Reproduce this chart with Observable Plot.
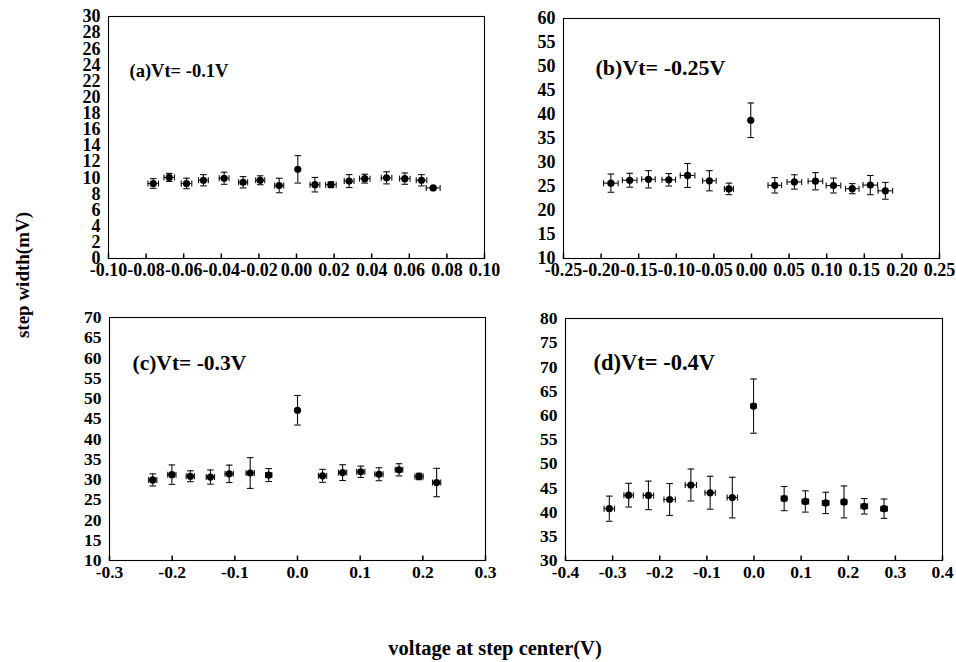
<!DOCTYPE html>
<html>
<head>
<meta charset="utf-8">
<script src="https://cdn.jsdelivr.net/npm/d3@7"></script>
<script src="https://cdn.jsdelivr.net/npm/@observablehq/plot@0.6"></script>
<style>
  html, body { margin: 0; padding: 0; background: #fff; }
  #root { position: relative; width: 956px; height: 662px; overflow: hidden; background: #fff;
          font-family: "Liberation Serif", "Times New Roman", serif; font-weight: bold; color: #000; }
  .panel { position: absolute; width: 480px; }
  .panel svg { max-width: none !important; }
  .title { position: absolute; white-space: nowrap; line-height: 1; }
</style>
</head>
<body>
<div id="root">
  <div class="title" id="ytitle" style="left:22px; top:275px; font-size:19px; transform: translate(-50%,-50%) rotate(-90deg);">step width(mV)</div>
  <div class="title" id="xtitle" style="left:495px; top:648px; font-size:20.5px; transform: translate(-50%,-50%);">voltage at step center(V)</div>
</div>
<script>
// ---------- data ----------
// (a) Vt = -0.1 V
const aX  = [-0.0762, -0.0677, -0.0585, -0.0495, -0.0385, -0.0284, -0.0193, -0.0092, 0.0007, 0.0098, 0.0183, 0.0280, 0.0363, 0.0479, 0.0576, 0.0665, 0.0727];
const aY  = [9.3, 10.05, 9.3, 9.7, 9.95, 9.45, 9.7, 9.05, 11.05, 9.15, 9.15, 9.6, 9.9, 10.0, 9.9, 9.7, 8.75];
const aEy = [0.6, 0.5, 0.65, 0.7, 0.75, 0.7, 0.55, 0.9, 1.7, 0.9, 0.35, 0.8, 0.55, 0.75, 0.7, 0.7, 0.15];
const aEx = [0.0028, 0.0028, 0.0028, 0.0026, 0.0026, 0.0024, 0.0024, 0.0024, 0, 0.0026, 0.0028, 0.0026, 0.0028, 0.0028, 0.0028, 0.0028, 0.0037];
// (b) Vt = -0.25 V
const bX  = [-0.187, -0.162, -0.137, -0.110, -0.085, -0.056, -0.030, -0.001, 0.031, 0.057, 0.085, 0.109, 0.134, 0.158, 0.178];
const bY  = [25.7, 26.3, 26.5, 26.4, 27.3, 26.2, 24.5, 38.8, 25.25, 25.95, 26.1, 25.2, 24.55, 25.3, 24.1];
const bEy = [1.9, 1.45, 1.8, 1.3, 2.5, 2.1, 1.2, 3.6, 1.6, 1.5, 1.8, 1.55, 1.05, 2.0, 1.75];
const bEx = [0.0097, 0.0097, 0.0090, 0.0090, 0.0097, 0.0090, 0.0060, 0, 0.0090, 0.0097, 0.0097, 0.0097, 0.0090, 0.0097, 0.0097];
// (c) Vt = -0.3 V
const cX  = [-0.231, -0.2005, -0.171, -0.139, -0.109, -0.0755, -0.046, 0.0, 0.040, 0.072, 0.101, 0.130, 0.162, 0.194, 0.222];
const cY  = [29.9, 31.2, 30.8, 30.6, 31.4, 31.6, 31.1, 47.1, 30.9, 31.7, 31.9, 31.3, 32.4, 30.75, 29.25];
const cEy = [1.5, 2.4, 1.35, 1.75, 2.15, 3.8, 1.6, 3.65, 1.6, 1.95, 1.4, 1.6, 1.5, 0.8, 3.5];
const cEx = [0.0066, 0.0066, 0.0066, 0.0066, 0.0066, 0.0066, 0.0050, 0, 0.0066, 0.0066, 0.0066, 0.0066, 0.0060, 0.0066, 0.0066];
// (d) Vt = -0.4 V
const dX  = [-0.307, -0.266, -0.224, -0.179, -0.134, -0.093, -0.046, -0.001, 0.064, 0.109, 0.152, 0.191, 0.234, 0.276];
const dY  = [40.7, 43.5, 43.45, 42.6, 45.6, 44.0, 43.0, 61.9, 42.8, 42.2, 41.9, 42.1, 41.2, 40.7];
const dEy = [2.6, 2.45, 2.95, 3.3, 3.3, 3.4, 4.2, 5.6, 2.5, 2.2, 2.2, 3.3, 1.6, 2.0];
const dEx = [0.0110, 0.0100, 0.0110, 0.0120, 0.0120, 0.0110, 0.0110, 0.0050, 0.0060, 0.0070, 0.0070, 0.0060, 0.0070, 0.0070];

// tick values (labels)
const aXTicks = [-0.10, -0.08, -0.06, -0.04, -0.02, 0.00, 0.02, 0.04, 0.06, 0.08, 0.10];
const aYTicks = [0, 2, 4, 6, 8, 10, 12, 14, 16, 18, 20, 22, 24, 26, 28, 30];
const bXTicks = [-0.25, -0.20, -0.15, -0.10, -0.05, 0.00, 0.05, 0.10, 0.15, 0.20, 0.25];
const bYTicks = [10, 15, 20, 25, 30, 35, 40, 45, 50, 55, 60];
const cXTicks = [-0.3, -0.2, -0.1, 0.0, 0.1, 0.2, 0.3];
const cYTicks = [10, 15, 20, 25, 30, 35, 40, 45, 50, 55, 60, 65, 70];
const dXTicks = [-0.4, -0.3, -0.2, -0.1, 0.0, 0.1, 0.2, 0.3, 0.4];
const dYTicks = [30, 35, 40, 45, 50, 55, 60, 65, 70, 75, 80];

const panelLabels = ["(a)Vt= -0.1V", "(b)Vt= -0.25V", "(c)Vt= -0.3V", "(d)Vt= -0.4V"];
const xAxisTitle = "voltage at step center(V)";
const yAxisTitle = "step width(mV)";

// ---------- drawing ----------
const hLine = {draw(ctx, size) { const r = Math.sqrt(size / Math.PI); ctx.moveTo(-r, 0); ctx.lineTo(r, 0); }};
const vLine = {draw(ctx, size) { const r = Math.sqrt(size / Math.PI); ctx.moveTo(0, -r); ctx.lineTo(0, r); }};
const upTick = {draw(ctx, size) { const r = Math.sqrt(size / Math.PI); ctx.moveTo(0, 0); ctx.lineTo(0, -r); }};

function panel(cfg) {
  const {xs, ys, exs, eys, xDomain, yDomain, xTicks, yTicks, xDec, label, frame, ldx, ldy, tickFont, labelFont} = cfg;
  const [L, R, T, B] = frame;
  const mL = 60, mR = 16, mT = 12, mB = 34;
  const data = xs.map((x, i) => ({x, y: ys[i], ex: exs[i], ey: eys[i]}));
  const withEx = data.filter(d => d.ex > 0);
  const ink = "#111";
  const plot = Plot.plot({
    width: mL + (R - L) + mR,
    height: mT + (B - T) + mB,
    marginLeft: mL, marginRight: mR, marginTop: mT, marginBottom: mB,
    style: `font-family: 'Liberation Serif', 'Times New Roman', serif; font-size: ${tickFont}px; font-weight: bold; color: #000; background: transparent; overflow: visible;`,
    x: {domain: xDomain, ticks: xTicks, tickFormat: d => d.toFixed(xDec), tickSize: 0, tickPadding: 5, label: null},
    y: {domain: yDomain, ticks: yTicks, tickFormat: d => String(d), tickSize: 0, tickPadding: 8, label: null},
    marks: [
      Plot.frame({stroke: "#000", strokeWidth: 1.1}),
      Plot.dot(xTicks, {x: d => d, y: () => yDomain[0], symbol: upTick, r: 5, stroke: "#000", fill: "none"}),
      Plot.ruleX(data, {x: "x", y1: d => d.y - d.ey, y2: d => d.y + d.ey, stroke: ink, strokeWidth: 1.1}),
      Plot.dot(data, {x: "x", y: d => d.y - d.ey, symbol: hLine, r: 3.3, stroke: ink, fill: "none", strokeWidth: 1.1}),
      Plot.dot(data, {x: "x", y: d => d.y + d.ey, symbol: hLine, r: 3.3, stroke: ink, fill: "none", strokeWidth: 1.1}),
      Plot.ruleY(withEx, {y: "y", x1: d => d.x - d.ex, x2: d => d.x + d.ex, stroke: ink, strokeWidth: 1.1}),
      Plot.dot(withEx, {x: d => d.x - d.ex, y: "y", symbol: vLine, r: 3, stroke: ink, fill: "none", strokeWidth: 1.1}),
      Plot.dot(withEx, {x: d => d.x + d.ex, y: "y", symbol: vLine, r: 3, stroke: ink, fill: "none", strokeWidth: 1.1}),
      Plot.dot(data, {x: "x", y: "y", r: 3.6, fill: "#000", stroke: "none"}),
      Plot.text([label], {text: d => d, frameAnchor: "top-left", dx: ldx, dy: ldy, textAnchor: "start", lineAnchor: "middle", fontSize: labelFont, fontWeight: "bold", fill: "#000"})
    ]
  });
  const wrap = document.createElement("div");
  wrap.className = "panel";
  wrap.style.left = (L - mL) + "px";
  wrap.style.top = (T - mT) + "px";
  wrap.appendChild(plot);
  document.getElementById("root").appendChild(wrap);
}

document.getElementById("xtitle").textContent = xAxisTitle;
document.getElementById("ytitle").textContent = yAxisTitle;

panel({xs: aX, ys: aY, exs: aEx, eys: aEy, xDomain: [-0.10, 0.10], yDomain: [0, 30], xTicks: aXTicks, yTicks: aYTicks, xDec: 2,
       label: panelLabels[0], frame: [108, 484, 16, 258], ldx: 21, ldy: 55, tickFont: 18, labelFont: 18.5});
panel({xs: bX, ys: bY, exs: bEx, eys: bEy, xDomain: [-0.25, 0.25], yDomain: [10, 60], xTicks: bXTicks, yTicks: bYTicks, xDec: 2,
       label: panelLabels[1], frame: [563, 939, 18, 258], ldx: 32, ldy: 49, tickFont: 18, labelFont: 22});
panel({xs: cX, ys: cY, exs: cEx, eys: cEy, xDomain: [-0.3, 0.3], yDomain: [10, 70], xTicks: cXTicks, yTicks: cYTicks, xDec: 1,
       label: panelLabels[2], frame: [109, 485, 317, 560], ldx: 23, ldy: 46, tickFont: 17.5, labelFont: 21.5});
panel({xs: dX, ys: dY, exs: dEx, eys: dEy, xDomain: [-0.4, 0.4], yDomain: [30, 80], xTicks: dXTicks, yTicks: dYTicks, xDec: 1,
       label: panelLabels[3], frame: [565, 942, 318, 560], ldx: 28, ldy: 44, tickFont: 17.5, labelFont: 22.5});
</script>
</body>
</html>
